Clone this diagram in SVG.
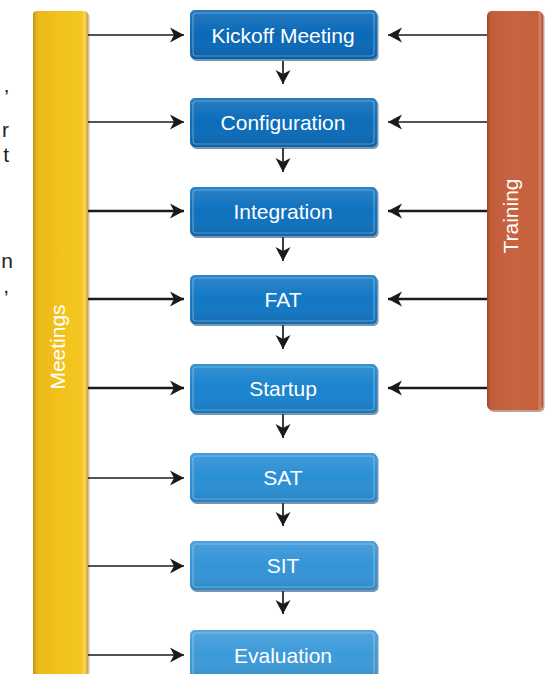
<svg xmlns="http://www.w3.org/2000/svg" width="560" height="674" viewBox="0 0 560 674">
<style>
.lbl{font-family:"Liberation Sans",Arial,sans-serif;font-size:21px;fill:#ffffff;text-anchor:middle}
.frag{font-family:"Liberation Sans",Arial,sans-serif;font-size:21px;fill:#222222;text-anchor:end}
.shadow{fill:#0a3f6e;opacity:0.55}
.hl{fill:none;stroke:#ffffff;stroke-opacity:0.3;stroke-width:1.2}
.thin{stroke:#1a1a1a;stroke-width:1.3;fill:none}
.thick{stroke:#1a1a1a;stroke-width:2.3;fill:none}
.mid{stroke:#1a1a1a;stroke-width:1.7;fill:none}
</style>
<defs>
<linearGradient id="yel" x1="0" y1="0" x2="1" y2="0">
<stop offset="0" stop-color="#b8921a"/>
<stop offset="0.07" stop-color="#eab818"/>
<stop offset="0.5" stop-color="#f3c21c"/>
<stop offset="0.88" stop-color="#f4c521"/>
<stop offset="0.94" stop-color="#f8d462"/>
<stop offset="1" stop-color="#c9a32a"/>
</linearGradient>
<linearGradient id="org" x1="0" y1="0" x2="1" y2="0">
<stop offset="0" stop-color="#9e472c"/>
<stop offset="0.07" stop-color="#c15d3c"/>
<stop offset="0.5" stop-color="#c8643f"/>
<stop offset="0.9" stop-color="#c6613e"/>
<stop offset="0.95" stop-color="#d98566"/>
<stop offset="1" stop-color="#a24b30"/>
</linearGradient>
<linearGradient id="gloss" x1="0" y1="0" x2="0" y2="1">
<stop offset="0" stop-color="#ffffff" stop-opacity="0.12"/>
<stop offset="0.5" stop-color="#ffffff" stop-opacity="0"/>
<stop offset="1" stop-color="#000000" stop-opacity="0.1"/>
</linearGradient>
<marker id="ah" viewBox="-15 -8 16 16" markerWidth="16" markerHeight="16" refX="0" refY="0" orient="auto" markerUnits="userSpaceOnUse">
<path d="M0,0 L-14,-7.5 L-10,0 L-14,7.5 Z" fill="#1a1a1a"/>
</marker>
</defs>

<g id="page-fragments">
<text class="frag" x="9" y="104">’</text>
<text class="frag" x="9" y="137">r</text>
<text class="frag" x="9" y="162">t</text>
<text class="frag" x="13" y="268">n</text>
<text class="frag" x="9" y="293">,</text>
</g>

<g id="meetings">
<rect x="34.5" y="13" width="55" height="680" rx="4" fill="#8a6c12" opacity="0.4"/>
<rect x="33" y="11" width="55" height="680" rx="4" fill="url(#yel)"/>
<text class="lbl" transform="translate(65,347) rotate(-90)" x="0" y="0">Meetings</text>
</g>

<g id="training">
<rect x="488.5" y="13" width="56" height="399" rx="5" fill="#6e2e1c" opacity="0.45"/>
<rect x="487" y="11" width="56" height="399" rx="5" fill="url(#org)"/>
<text class="lbl" transform="translate(518,216) rotate(-90)" x="0" y="0">Training</text>
</g>

<g id="connectors">
<line class="thin" x1="88" y1="35" x2="184" y2="35" marker-end="url(#ah)"/>
<line class="thin" x1="88" y1="122" x2="184" y2="122" marker-end="url(#ah)"/>
<line class="thick" x1="88" y1="211" x2="184" y2="211" marker-end="url(#ah)"/>
<line class="thick" x1="88" y1="299" x2="184" y2="299" marker-end="url(#ah)"/>
<line class="thick" x1="88" y1="388" x2="184" y2="388" marker-end="url(#ah)"/>
<line class="mid" x1="88" y1="478" x2="184" y2="478" marker-end="url(#ah)"/>
<line class="mid" x1="88" y1="566" x2="184" y2="566" marker-end="url(#ah)"/>
<line class="mid" x1="88" y1="655" x2="184" y2="655" marker-end="url(#ah)"/>

<line class="thin" x1="487" y1="35" x2="388" y2="35" marker-end="url(#ah)"/>
<line class="thin" x1="487" y1="122" x2="388" y2="122" marker-end="url(#ah)"/>
<line class="thick" x1="487" y1="211" x2="388" y2="211" marker-end="url(#ah)"/>
<line class="thick" x1="487" y1="299" x2="388" y2="299" marker-end="url(#ah)"/>
<line class="thick" x1="487" y1="388" x2="388" y2="388" marker-end="url(#ah)"/>

<line class="mid" x1="283" y1="61" x2="283" y2="84" marker-end="url(#ah)"/>
<line class="mid" x1="283" y1="148" x2="283" y2="172" marker-end="url(#ah)"/>
<line class="mid" x1="283" y1="237" x2="283" y2="261" marker-end="url(#ah)"/>
<line class="mid" x1="283" y1="325" x2="283" y2="349" marker-end="url(#ah)"/>
<line class="mid" x1="283" y1="414" x2="283" y2="438" marker-end="url(#ah)"/>
<line class="mid" x1="283" y1="503" x2="283" y2="526" marker-end="url(#ah)"/>
<line class="mid" x1="283" y1="591" x2="283" y2="614" marker-end="url(#ah)"/>
</g>

<g id="kickoff">
<rect class="shadow" x="191.5" y="12" width="187" height="49" rx="5"/>
<rect x="190" y="10" width="187" height="49" rx="5" fill="#0a69b7"/>
<rect x="190" y="10" width="187" height="49" rx="5" fill="url(#gloss)"/>
<rect class="hl" x="193" y="13" width="181" height="43" rx="3"/>
<text class="lbl" x="283" y="42.5">Kickoff Meeting</text>
</g>
<g id="configuration">
<rect class="shadow" x="191.5" y="100" width="187" height="49" rx="5"/>
<rect x="190" y="98" width="187" height="49" rx="5" fill="#0b6cb9"/>
<rect x="190" y="98" width="187" height="49" rx="5" fill="url(#gloss)"/>
<rect class="hl" x="193" y="101" width="181" height="43" rx="3"/>
<text class="lbl" x="283" y="130">Configuration</text>
</g>
<g id="integration">
<rect class="shadow" x="191.5" y="189" width="187" height="49" rx="5"/>
<rect x="190" y="187" width="187" height="49" rx="5" fill="#0e71be"/>
<rect x="190" y="187" width="187" height="49" rx="5" fill="url(#gloss)"/>
<rect class="hl" x="193" y="190" width="181" height="43" rx="3"/>
<text class="lbl" x="283" y="219">Integration</text>
</g>
<g id="fat">
<rect class="shadow" x="191.5" y="277" width="187" height="49" rx="5"/>
<rect x="190" y="275" width="187" height="49" rx="5" fill="#1277c4"/>
<rect x="190" y="275" width="187" height="49" rx="5" fill="url(#gloss)"/>
<rect class="hl" x="193" y="278" width="181" height="43" rx="3"/>
<text class="lbl" x="283" y="307">FAT</text>
</g>
<g id="startup">
<rect class="shadow" x="191.5" y="366" width="187" height="49" rx="5"/>
<rect x="190" y="364" width="187" height="49" rx="5" fill="#1a83ce"/>
<rect x="190" y="364" width="187" height="49" rx="5" fill="url(#gloss)"/>
<rect class="hl" x="193" y="367" width="181" height="43" rx="3"/>
<text class="lbl" x="283" y="396">Startup</text>
</g>
<g id="sat">
<rect class="shadow" x="191.5" y="455" width="187" height="49" rx="5"/>
<rect x="190" y="453" width="187" height="49" rx="5" fill="#2a8fd5"/>
<rect x="190" y="453" width="187" height="49" rx="5" fill="url(#gloss)"/>
<rect class="hl" x="193" y="456" width="181" height="43" rx="3"/>
<text class="lbl" x="283" y="485">SAT</text>
</g>
<g id="sit">
<rect class="shadow" x="191.5" y="543" width="187" height="49" rx="5"/>
<rect x="190" y="541" width="187" height="49" rx="5" fill="#3494d7"/>
<rect x="190" y="541" width="187" height="49" rx="5" fill="url(#gloss)"/>
<rect class="hl" x="193" y="544" width="181" height="43" rx="3"/>
<text class="lbl" x="283" y="573">SIT</text>
</g>
<g id="evaluation">
<rect class="shadow" x="191.5" y="632" width="187" height="49" rx="5"/>
<rect x="190" y="630" width="187" height="49" rx="5" fill="#3c9ad9"/>
<rect x="190" y="630" width="187" height="49" rx="5" fill="url(#gloss)"/>
<rect class="hl" x="193" y="633" width="181" height="43" rx="3"/>
<text class="lbl" x="283" y="662.5">Evaluation</text>
</g>
</svg>
